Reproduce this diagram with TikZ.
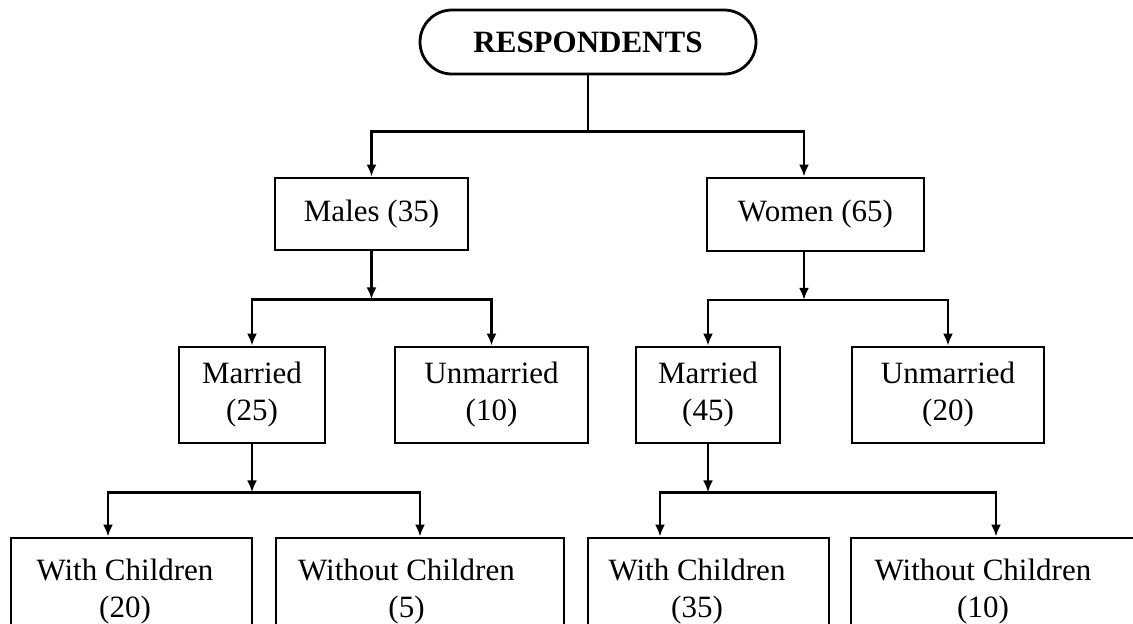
\documentclass[tikz,border=0pt]{standalone}
\usepackage{fontspec}
\setmainfont{Liberation Serif}
\usetikzlibrary{arrows.meta}

\begin{document}
\begin{tikzpicture}[x=0.5pt, y=-0.5pt, line width=1.2pt,
    font=\fontsize{15.5}{18.5}\selectfont,
    box/.style = {draw, line width=1.4pt, inner sep=0pt, align=center},
    low/.style = {box, minimum width=#1, minimum height=54pt},
    arr/.style = {-{Latex[length=6pt,width=5pt]}}]
  \useasboundingbox (0,0) rectangle (1133,623);
  \node[box, rounded corners=16pt, minimum width=168pt, minimum height=32pt, font=\fontsize{15.5}{18.5}\selectfont\bfseries] (resp) at (588,42) {RESPONDENTS};
  \node[box, minimum width=96.5pt, minimum height=36pt] (males) at (371.5,214) {Males (35)};
  \node[box, minimum width=108.5pt, minimum height=36.5pt] (women) at (815.5,214.5) {Women (65)};
  \node[box, minimum width=73pt, minimum height=48pt] (mar1) at (252,395) {Married\\(25)};
  \node[box, minimum width=96.5pt, minimum height=48pt] (unm1) at (491.5,395) {Unmarried\\(10)};
  \node[box, minimum width=72pt, minimum height=48pt] (mar2) at (708,395) {Married\\(45)};
  \node[box, minimum width=96pt, minimum height=48pt] (unm2) at (948,395) {Unmarried\\(20)};
  \node[low=120.5pt, label={[xshift=-3.25pt, align=center]center:With Children\\(20)}] (wc1) at (131.5,592) {};
  \node[low=144pt, label={[xshift=-6.75pt, align=center]center:Without Children\\(5)}] (woc1) at (420,592) {};
  \node[low=120.5pt, label={[xshift=-5.75pt, align=center]center:With Children\\(35)}] (wc2) at (708.5,592) {};
  \node[low=155pt, label={[xshift=-11.5pt, align=center]center:Without Children\\(10)}] (woc2) at (1006,592) {};
  % first split
  \draw (resp.south) -- ++(0,56) coordinate (b1);
  \draw[arr] (b1) -| (males.north);
  \draw[arr] (b1) -| ([xshift=-5.75pt]women.north);
  % second split
  \draw[arr] (males.south) -- ++(0,48) coordinate (b2);
  \draw[arr] (b2) -| (mar1.north);
  \draw[arr] (b2) -| (unm1.north);
  \draw[arr] ([xshift=-5.75pt]women.south) -- ++(0,47.5) coordinate (b3);
  \draw[arr] (b3) -| (mar2.north);
  \draw[arr] (b3) -| (unm2.north);
  % children
  \draw[arr] (mar1.south) -- ++(0,48) coordinate (b4);
  \draw[arr] (b4) -| ([xshift=-11.75pt]wc1.north);
  \draw[arr] (b4) -| (woc1.north);
  \draw[arr] (mar2.south) -- ++(0,48) coordinate (b5);
  \draw[arr] (b5) -| ([xshift=-24.25pt]wc2.north);
  \draw[arr] (b5) -| ([xshift=-5pt]woc2.north);
\end{tikzpicture}
\end{document}
